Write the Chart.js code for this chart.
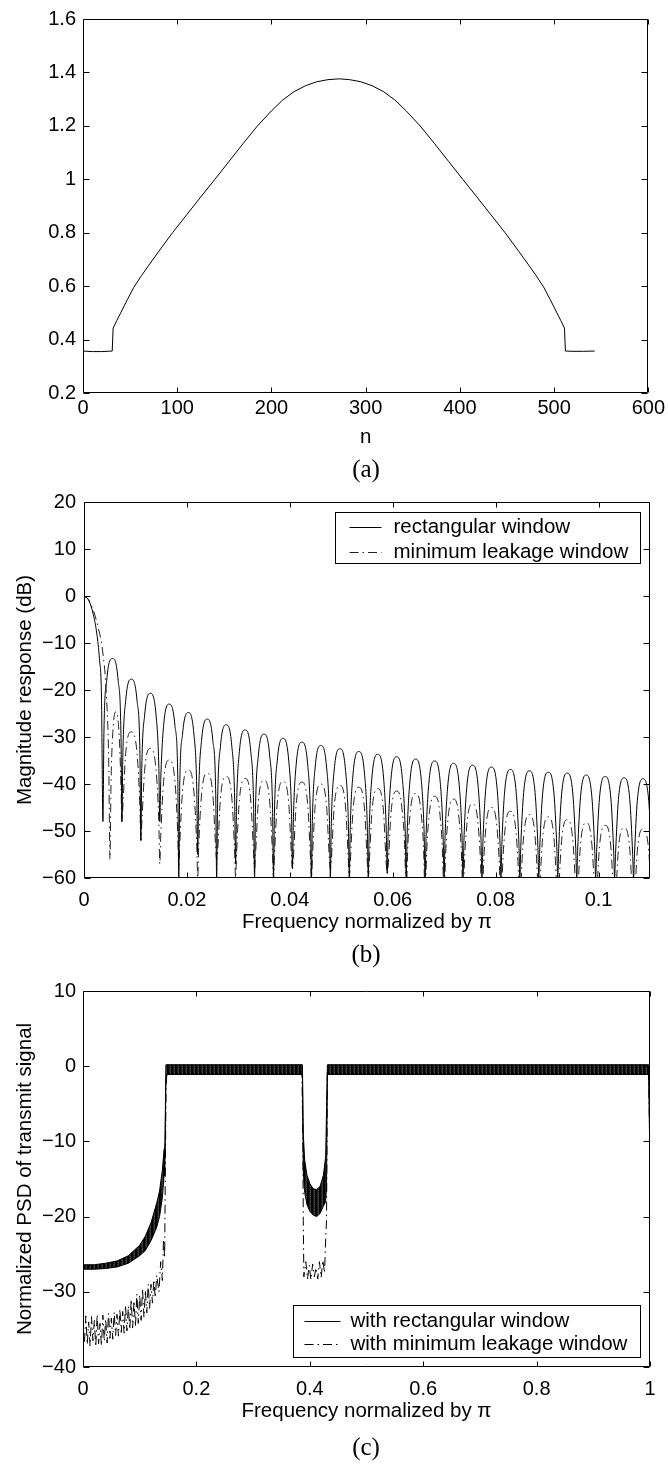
<!DOCTYPE html>
<html><head><meta charset="utf-8">
<script src="https://cdn.jsdelivr.net/npm/chart.js@4.4.1/dist/chart.umd.min.js"></script>
<style>
html,body{margin:0;padding:0;background:#fff;}
#wrap{position:relative;width:668px;height:1466px;overflow:hidden;background:#fff;}
canvas{position:absolute;left:0;}
.cap{position:absolute;left:366px;transform:translate(-50%,-50%);font-family:'Liberation Serif','Times New Roman',serif;font-size:25px;line-height:1;color:#000;white-space:nowrap;}
</style></head><body>
<div id="wrap">
<canvas id="ca" width="668" height="480" style="top:0"></canvas>
<canvas id="cb" width="668" height="490" style="top:480px"></canvas>
<canvas id="cc" width="668" height="496" style="top:970px"></canvas>
<div class="cap" style="top:468px">(a)</div>
<div class="cap" style="top:953px">(b)</div>
<div class="cap" style="top:1446px">(c)</div>
</div>
<script>
// ---------------- (a) window ----------------
const aN = [0, 10, 20, 31, 32, 36, 40, 47, 54, 62, 70, 80, 95, 110, 125, 140, 155, 170, 185, 200, 212, 224, 236, 248, 260, 272, 283, 295, 307, 319, 331, 343, 358, 373, 388, 403, 418, 433, 448, 463, 473, 481, 489, 496, 503, 507, 511, 512, 520, 530, 543];
const aW = [0.357, 0.355, 0.355, 0.357, 0.443, 0.472, 0.500, 0.549, 0.596, 0.639, 0.679, 0.728, 0.800, 0.867, 0.934, 1.000, 1.067, 1.134, 1.199, 1.256, 1.297, 1.328, 1.350, 1.365, 1.373, 1.376, 1.373, 1.365, 1.350, 1.328, 1.297, 1.256, 1.199, 1.134, 1.067, 1.000, 0.934, 0.867, 0.800, 0.728, 0.679, 0.639, 0.596, 0.549, 0.500, 0.472, 0.443, 0.357, 0.356, 0.356, 0.357];
const aXTicks = [0, 100, 200, 300, 400, 500, 600];
const aXLabels = ['0', '100', '200', '300', '400', '500', '600'];
const aYTicks = [0.2, 0.4, 0.6, 0.8, 1, 1.2, 1.4, 1.6];
const aYLabels = ['0.2', '0.4', '0.6', '0.8', '1', '1.2', '1.4', '1.6'];

// ---------------- (b) magnitude response ----------------
const bRectHeadX = [0, 0.0009, 0.0018, 0.0025, 0.0030, 0.0034, 0.00368, 0.00387, 0.00442, 0.00553, 0.00663, 0.00718];
const bRectHeadY = [0, -0.9, -3.9, -8.1, -13.4, -21.7, -48, -29.3, -17.9, -13.3, -17.9, -29.3];
const bMinHeadX = [0, 0.0009, 0.0018, 0.0027, 0.0036, 0.0044, 0.0048, 0.00505, 0.00525, 0.0056, 0.0062, 0.0068, 0.00718];
const bMinHeadY = [0, -0.8, -3.0, -6.5, -11.5, -22, -35, -56, -40, -29, -24.6, -29, -40];
const bLobeX = [
 0.00737, 0.00755, 0.00810, 0.00921, 0.01031, 0.01087,
 0.01105, 0.01123, 0.01179, 0.01289, 0.01400, 0.01455,
 0.01473, 0.01492, 0.01547, 0.01657, 0.01768, 0.01823,
 0.01842, 0.01860, 0.01915, 0.02026, 0.02136, 0.02191,
 0.02210, 0.02228, 0.02284, 0.02394, 0.02504, 0.02560,
 0.02578, 0.02597, 0.02652, 0.02762, 0.02873, 0.02928,
 0.02946, 0.02965, 0.03020, 0.03131, 0.03241, 0.03296,
 0.03315, 0.03333, 0.03388, 0.03499, 0.03609, 0.03665,
 0.03683, 0.03701, 0.03757, 0.03867, 0.03978, 0.04033,
 0.04051, 0.04070, 0.04125, 0.04236, 0.04346, 0.04401,
 0.04420, 0.04438, 0.04493, 0.04604, 0.04714, 0.04770,
 0.04788, 0.04806, 0.04862, 0.04972, 0.05083, 0.05138,
 0.05156, 0.05175, 0.05230, 0.05340, 0.05451, 0.05506,
 0.05525, 0.05543, 0.05598, 0.05709, 0.05819, 0.05874,
 0.05893, 0.05911, 0.05967, 0.06077, 0.06187, 0.06243,
 0.06261, 0.06280, 0.06335, 0.06445, 0.06556, 0.06611,
 0.06629, 0.06648, 0.06703, 0.06814, 0.06924, 0.06979,
 0.06998, 0.07016, 0.07071, 0.07182, 0.07292, 0.07348,
 0.07366, 0.07384, 0.07440, 0.07550, 0.07661, 0.07716,
 0.07734, 0.07753, 0.07808, 0.07919, 0.08029, 0.08084,
 0.08103, 0.08121, 0.08176, 0.08287, 0.08397, 0.08453,
 0.08471, 0.08489, 0.08545, 0.08655, 0.08766, 0.08821,
 0.08839, 0.08858, 0.08913, 0.09023, 0.09134, 0.09189,
 0.09208, 0.09226, 0.09281, 0.09392, 0.09502, 0.09557,
 0.09576, 0.09594, 0.09650, 0.09760, 0.09870, 0.09926,
 0.09944, 0.09963, 0.10018, 0.10128, 0.10239, 0.10294,
 0.10312, 0.10331, 0.10386, 0.10497, 0.10607, 0.10662,
 0.10681, 0.10699, 0.10754, 0.10865, 0.10975, 0.11031,
 0.11049];
const bRectLobeY = [
 -48, -33.7, -22.3, -17.7, -22.3, -33.7,
 -52, -36.7, -25.3, -20.7, -25.3, -36.7,
 -48, -39.0, -27.6, -23.0, -27.6, -39.0,
 -60, -40.8, -29.4, -24.8, -29.4, -40.8,
 -55, -42.2, -30.8, -26.2, -30.8, -42.2,
 -60, -43.4, -32.0, -27.4, -32.0, -43.4,
 -57, -44.5, -33.1, -28.5, -33.1, -44.5,
 -60, -45.4, -34.0, -29.4, -34.0, -45.4,
 -60, -46.3, -34.9, -30.3, -34.9, -46.3,
 -58, -47.1, -35.7, -31.1, -35.7, -47.1,
 -60, -47.8, -36.4, -31.8, -36.4, -47.8,
 -60, -48.5, -37.1, -32.5, -37.1, -48.5,
 -60, -49.1, -37.7, -33.1, -37.7, -49.1,
 -60, -49.7, -38.3, -33.7, -38.3, -49.7,
 -59, -50.2, -38.8, -34.2, -38.8, -50.2,
 -60, -50.7, -39.3, -34.7, -39.3, -50.7,
 -60, -51.1, -39.7, -35.1, -39.7, -51.1,
 -60, -51.6, -40.2, -35.6, -40.2, -51.6,
 -60, -52.0, -40.6, -36.0, -40.6, -52.0,
 -60, -52.4, -41.0, -36.4, -41.0, -52.4,
 -60, -52.9, -41.5, -36.9, -41.5, -52.9,
 -60, -53.2, -41.8, -37.2, -41.8, -53.2,
 -60, -53.5, -42.1, -37.5, -42.1, -53.5,
 -60, -53.7, -42.3, -37.7, -42.3, -53.7,
 -60, -54.1, -42.7, -38.1, -42.7, -54.1,
 -60, -54.4, -43.0, -38.4, -43.0, -54.4,
 -60, -54.7, -43.3, -38.7, -43.3, -54.7,
 -60, -54.9, -43.5, -38.9, -43.5, -54.9,
 -60];
const bMinLobeY = [
 -48, -44.9, -33.5, -28.9, -33.5, -44.9,
 -52, -48.4, -37.0, -32.4, -37.0, -48.4,
 -57, -50.9, -39.5, -34.9, -39.5, -50.9,
 -58, -53.0, -41.6, -37.0, -41.6, -53.0,
 -60, -53.7, -42.3, -37.7, -42.3, -53.7,
 -56, -54.4, -43.0, -38.4, -43.0, -54.4,
 -60, -54.8, -43.4, -38.8, -43.4, -54.8,
 -58, -55.2, -43.8, -39.2, -43.8, -55.2,
 -60, -55.4, -44.0, -39.4, -44.0, -55.4,
 -58, -55.6, -44.2, -39.6, -44.2, -55.6,
 -60, -56.0, -44.6, -40.0, -44.6, -56.0,
 -58, -56.3, -44.9, -40.3, -44.9, -56.3,
 -60, -56.7, -45.3, -40.7, -45.3, -56.7,
 -60, -57.0, -45.6, -41.0, -45.6, -57.0,
 -59, -57.5, -46.1, -41.5, -46.1, -57.5,
 -70, -58.0, -46.6, -42.0, -46.6, -58.0,
 -70, -58.6, -47.2, -42.6, -47.2, -58.6,
 -70, -59.2, -47.8, -43.2, -47.8, -59.2,
 -70, -60.2, -48.8, -44.2, -48.8, -60.2,
 -70, -61.0, -49.6, -45.0, -49.6, -61.0,
 -70, -61.8, -50.4, -45.8, -50.4, -61.8,
 -70, -62.5, -51.1, -46.5, -51.1, -62.5,
 -70, -63.0, -51.6, -47.0, -51.6, -63.0,
 -70, -63.6, -52.2, -47.6, -52.2, -63.6,
 -70, -64.2, -52.8, -48.2, -52.8, -64.2,
 -70, -64.8, -53.4, -48.8, -53.4, -64.8,
 -70, -65.3, -53.9, -49.3, -53.9, -65.3,
 -70, -65.6, -54.2, -49.6, -54.2, -65.6,
 -70];
const bXTicks = [0, 0.02, 0.04, 0.06, 0.08, 0.1];
const bXLabels = ['0', '0.02', '0.04', '0.06', '0.08', '0.1'];
const bYTicks = [-60, -50, -40, -30, -20, -10, 0, 10, 20];
const bYLabels = ['\u221260', '\u221250', '\u221240', '\u221230', '\u221220', '\u221210', '0', '10', '20'];

// ---------------- (c) PSD ----------------
const cRectX  = [0, 0.02, 0.04, 0.06, 0.08, 0.10, 0.11, 0.12, 0.13, 0.135, 0.14, 0.143, 0.1446, 0.1462, 0.148, 0.387, 0.3885, 0.391, 0.395, 0.40, 0.406, 0.412, 0.418, 0.424, 0.428, 0.4295, 0.431, 0.9975, 1.0];
const cRectHi = [-26.4, -26.4, -26.2, -25.9, -25.2, -23.8, -22.6, -20.8, -18.2, -16.6, -13.8, -11.0, -10.0, 0.2, 0.2, 0.2, -9.0, -12.5, -14.5, -15.6, -16.3, -16.4, -16.0, -14.5, -12.0, -6.0, 0.2, 0.2, -0.5];
const cRectLo = [-27.0, -27.0, -26.9, -26.7, -26.2, -25.2, -24.5, -23.2, -21.4, -20.0, -17.5, -14.5, -12.0, -2.0, -1.1, -1.1, -14.0, -16.8, -18.4, -19.3, -19.8, -20.0, -19.6, -18.6, -18.0, -16.0, -1.1, -1.1, -13.0];
const cMinX = [0, 0.0025, 0.005, 0.0075, 0.010, 0.0125, 0.015, 0.0175, 0.020, 0.0225, 0.025, 0.0275, 0.030, 0.0325, 0.035, 0.0375, 0.040, 0.0425, 0.045, 0.0475, 0.050, 0.0525, 0.055, 0.0575, 0.060, 0.0625, 0.065, 0.0675, 0.070, 0.0725, 0.075, 0.0775, 0.080, 0.0825, 0.085, 0.0875, 0.090, 0.0925, 0.095, 0.0975, 0.100, 0.1025, 0.105, 0.1075, 0.110, 0.1125, 0.115, 0.1175, 0.120, 0.1225, 0.125, 0.1275, 0.130,
  0.134, 0.137, 0.140, 0.142, 0.144, 0.1452, 0.1465, 0.148, 0.386, 0.3878, 0.3885, 0.3895, 0.393, 0.396, 0.399, 0.402, 0.405, 0.408, 0.411, 0.414, 0.417, 0.420, 0.423, 0.426, 0.428, 0.4295, 0.4305, 0.431, 0.9975, 1.0];
const cMinY = [-34.5, -36.8, -33.2, -37.0, -34.0, -37.2, -33.3, -36.5, -33.8, -37.3, -33.0, -36.9, -34.2, -37.2, -33.1, -36.6, -33.6, -36.8, -32.9, -36.2, -33.5, -36.3, -32.7, -35.8, -33.0, -35.9, -32.3, -35.4, -32.6, -35.5, -31.8, -35.2, -31.9, -35.0, -31.0, -34.8, -31.2, -34.6, -30.3, -34.2, -30.4, -33.8, -29.6, -33.4, -29.8, -32.8, -29.0, -32.2, -29.0, -31.5, -28.4, -30.8, -27.8,
  -30.0, -26.0, -28.5, -23.0, -25.5, -14.0, -3.0, -0.5, -0.5, -10.0, -20.5, -28.0, -26.0, -28.3, -26.5, -28.4, -26.3, -28.0, -26.8, -28.3, -26.0, -28.1, -25.8, -27.5, -23.0, -20.5, -8.0, -0.5, -0.5, -13.0];
const cXTicks = [0, 0.2, 0.4, 0.6, 0.8, 1];
const cXLabels = ['0', '0.2', '0.4', '0.6', '0.8', '1'];
const cYTicks = [-40, -30, -20, -10, 0, 10];
const cYLabels = ['\u221240', '\u221230', '\u221220', '\u221210', '0', '10'];

// ---------------- helpers ----------------
const FONT_FAMILY = "'Liberation Sans', Arial, Helvetica, sans-serif";
Chart.defaults.font.family = FONT_FAMILY;
Chart.defaults.color = '#000';

function pts(xs, ys) { return xs.map((x, i) => ({ x: x, y: ys[i] })); }

function axis(o) {
  return {
    type: 'linear', min: o.min, max: o.max,
    grid: { display: false, drawTicks: false, tickLength: 0 }, border: { display: false },
    afterBuildTicks: s => { s.ticks = o.ticks.map(v => ({ value: v })); },
    afterFit: s => { if (o.horizontal) s.height = o.size; else s.width = o.size; },
    ticks: { padding: o.pad, font: { size: 20 }, color: '#000', autoSkip: false, maxRotation: 0, minRotation: 0,
             includeBounds: false, callback: (v, i) => o.labels[i] },
    title: o.title ? { display: true, text: o.title, color: '#000', font: { size: 20.5 }, padding: o.titlePad } : { display: false }
  };
}

const frameTicks = {
  id: 'frameTicks',
  afterDraw(chart) {
    const { ctx, chartArea: a } = chart;
    const x = chart.scales.x, y = chart.scales.y;
    const L = Math.round(a.left) + 0.5, R = Math.round(a.right) - 0.5;
    const T = Math.round(a.top) + 0.5, B = Math.round(a.bottom) - 0.5;
    ctx.save();
    ctx.strokeStyle = '#000'; ctx.lineWidth = 1; ctx.setLineDash([]);
    ctx.beginPath();
    ctx.rect(L, T, R - L, B - T);
    x.ticks.forEach(t => {
      const p = Math.round(x.getPixelForValue(t.value)) + 0.5;
      ctx.moveTo(p, B); ctx.lineTo(p, B - 5);
      ctx.moveTo(p, T); ctx.lineTo(p, T + 5);
    });
    y.ticks.forEach(t => {
      const p = Math.round(y.getPixelForValue(t.value)) + 0.5;
      ctx.moveTo(L, p); ctx.lineTo(L + 6, p);
      ctx.moveTo(R, p); ctx.lineTo(R - 6, p);
    });
    ctx.stroke();
    ctx.restore();
  }
};

const boxLegend = {
  id: 'boxLegend',
  afterDraw(chart, args, o) {
    if (!o || !o.items) return;
    const { ctx, chartArea: a } = chart;
    ctx.save();
    ctx.font = '20.5px ' + FONT_FAMILY;
    const items = Array.from(o.items);
    const rows = Array.from(o.rows);
    const tw = Math.max(...items.map(i => ctx.measureText(chart.data.datasets[i].label).width));
    const w = Math.round(o.padLeft + o.lineLen + o.gap + tw + o.padRight);
    const h = o.height;
    const x0 = Math.round(a.right - o.inset - w) + 0.5;
    const y0 = (o.corner === 'top' ? Math.round(a.top + o.inset) : Math.round(a.bottom - o.inset - h)) + 0.5;
    ctx.fillStyle = '#fff'; ctx.fillRect(x0, y0, w, h);
    ctx.strokeStyle = '#000'; ctx.lineWidth = 1; ctx.strokeRect(x0, y0, w, h);
    items.forEach((di, k) => {
      const ds = chart.data.datasets[di];
      const yy = Math.round(y0 + rows[k]) + 0.5;
      ctx.beginPath();
      ctx.setLineDash(ds.borderDash || []);
      ctx.strokeStyle = ds.borderColor; ctx.lineWidth = ds.borderWidth || 1;
      ctx.moveTo(x0 + o.padLeft, yy); ctx.lineTo(x0 + o.padLeft + o.lineLen, yy);
      ctx.stroke();
      ctx.setLineDash([]);
      ctx.fillStyle = '#000'; ctx.textBaseline = 'middle'; ctx.textAlign = 'left';
      ctx.fillText(ds.label, x0 + o.padLeft + o.lineLen + o.gap, yy);
    });
    ctx.restore();
  }
};

function ripplePattern(canvas) {
  const c = document.createElement('canvas'); c.width = 4; c.height = 2;
  const g = c.getContext('2d');
  g.fillStyle = '#000'; g.fillRect(0, 0, 4, 2);
  g.fillStyle = '#1e1e1e'; g.fillRect(1, 0, 1, 2);
  g.fillStyle = '#4a4a4a'; g.fillRect(2, 0, 1, 1);
  g.fillStyle = '#2c2c2c'; g.fillRect(2, 1, 1, 1);
  return canvas.getContext('2d').createPattern(c, 'repeat');
}

const base = {
  responsive: false, animation: false, devicePixelRatio: 1, events: [],
  elements: { point: { radius: 0 }, line: { borderWidth: 1 } }
};
const DASHDOT = [9, 4, 1.5, 4];

// ---------------- chart (a) ----------------
new Chart(document.getElementById('ca'), {
  type: 'line',
  data: { datasets: [{ label: 'window', data: pts(aN, aW), borderColor: '#000', borderWidth: 1, pointRadius: 0, tension: 0, fill: false }] },
  options: Object.assign({}, base, {
    layout: { padding: { top: 16, left: 0, right: 18, bottom: 30.7 } },
    plugins: { legend: { display: false }, tooltip: { enabled: false } },
    scales: {
      x: axis({ min: 0, max: 600, ticks: aXTicks, labels: aXLabels, title: 'n', pad: 3, size: 56.3, horizontal: true, titlePad: { top: 0, bottom: 0 } }),
      y: axis({ min: 0.2, max: 1.6, ticks: aYTicks, labels: aYLabels, pad: 7, size: 83, horizontal: false })
    }
  }),
  plugins: [frameTicks]
});

// ---------------- chart (b) ----------------
new Chart(document.getElementById('cb'), {
  type: 'line',
  data: { datasets: [
    { label: 'rectangular window', data: pts(bRectHeadX.concat(bLobeX), bRectHeadY.concat(bRectLobeY)),
      borderColor: '#000', borderWidth: 1, pointRadius: 0, cubicInterpolationMode: 'monotone', fill: false },
    { label: 'minimum leakage window', data: pts(bMinHeadX.concat(bLobeX), bMinHeadY.concat(bMinLobeY)),
      borderColor: '#222', borderWidth: 1, borderDash: DASHDOT, pointRadius: 0, cubicInterpolationMode: 'monotone', fill: false }
  ] },
  options: Object.assign({}, base, {
    layout: { padding: { top: 22, left: 0, right: 18, bottom: 35.7 } },
    plugins: { legend: { display: false }, tooltip: { enabled: false },
      boxLegend: { items: [0, 1], rows: [14.7, 39], padLeft: 14, lineLen: 32, gap: 12, padRight: 12, height: 51, inset: 10, corner: 'top' } },
    scales: {
      x: axis({ min: 0, max: 0.11, ticks: bXTicks, labels: bXLabels, title: 'Frequency normalized by \u03c0', pad: 10, size: 56.3, horizontal: true, titlePad: { top: 0, bottom: 0 } }),
      y: axis({ min: -60, max: 20, ticks: bYTicks, labels: bYLabels, title: 'Magnitude response (dB)', pad: 8, size: 84, horizontal: false, titlePad: { top: 13, bottom: 0 } })
    }
  }),
  plugins: [frameTicks, boxLegend]
});

// ---------------- chart (c) ----------------
const ccCanvas = document.getElementById('cc');
new Chart(ccCanvas, {
  type: 'line',
  data: { datasets: [
    { label: 'with rectangular window', data: pts(cRectX, cRectHi), borderColor: '#000', borderWidth: 1, pointRadius: 0, fill: false },
    { label: '', data: pts(cRectX, cRectLo), borderColor: '#000', borderWidth: 1, pointRadius: 0, fill: '-1', backgroundColor: ripplePattern(ccCanvas) },
    { label: 'with minimum leakage window', data: pts(cMinX, cMinY), borderColor: '#000', borderWidth: 1, borderDash: DASHDOT, pointRadius: 0, fill: false }
  ] },
  options: Object.assign({}, base, {
    layout: { padding: { top: 21, left: 0, right: 18, bottom: 42.7 } },
    plugins: { legend: { display: false }, tooltip: { enabled: false },
      boxLegend: { items: [0, 2], rows: [15.7, 38.3], padLeft: 11, lineLen: 36, gap: 10, padRight: 13, height: 52, inset: 10, corner: 'bottom' } },
    scales: {
      x: axis({ min: 0, max: 1, ticks: cXTicks, labels: cXLabels, title: 'Frequency normalized by \u03c0', pad: 10, size: 56.3, horizontal: true, titlePad: { top: 0, bottom: 0 } }),
      y: axis({ min: -40, max: 10, ticks: cYTicks, labels: cYLabels, title: 'Normalized PSD of transmit signal', pad: 7, size: 83, horizontal: false, titlePad: { top: 13, bottom: 0 } })
    }
  }),
  plugins: [frameTicks, boxLegend]
});
</script>
</body></html>
